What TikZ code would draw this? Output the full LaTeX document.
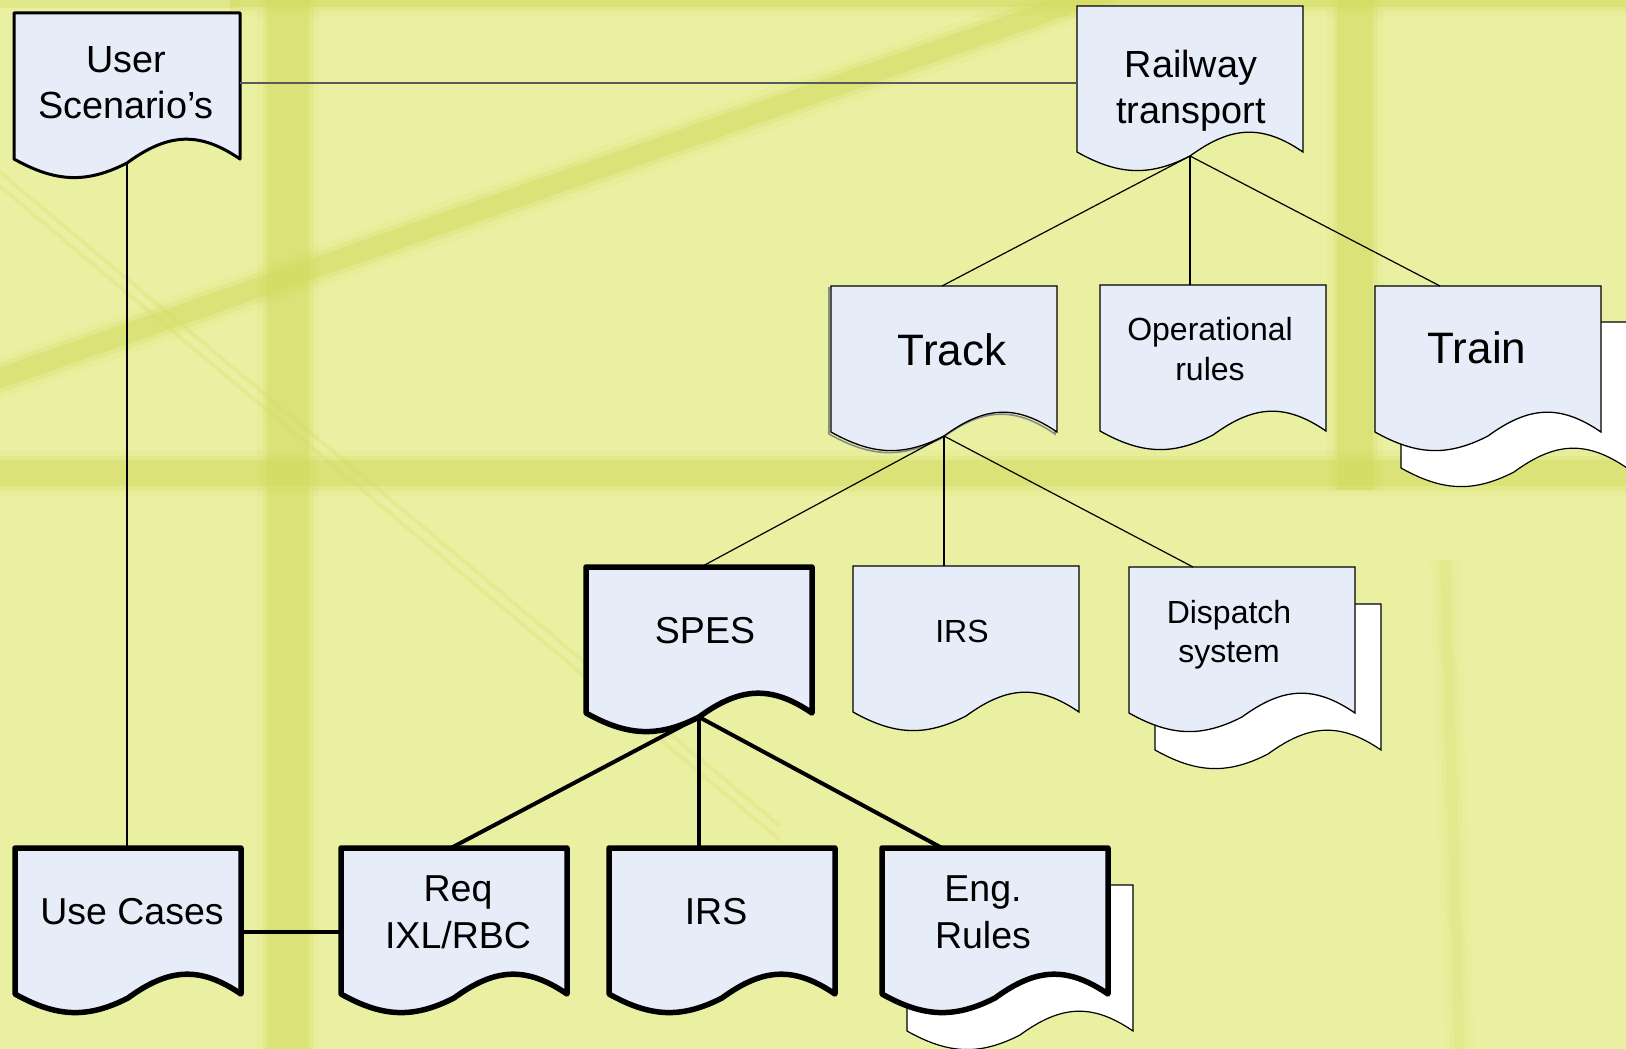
\documentclass[tikz,border=0pt]{standalone}
\usepackage{fontspec}
\setmainfont{Liberation Sans}
\usetikzlibrary{calc}
\definecolor{bg}{HTML}{EAF0A2}
\definecolor{bar}{HTML}{D3DB5E}
\definecolor{docfill}{HTML}{E6ECF8}

% document shape: name, x, y (top-left), style
\newcommand\docshape[4]{%
  \coordinate (#1) at (#2,#3);
  \coordinate (#1-b) at (#2+113,#3+150);
  \path[#4] (#2,#3) -- (#2+226,#3) -- (#2+226,#3+146)
    .. controls (#2+185,#3+118) and (#2+154,#3+120) .. (#2+113,#3+150)
    .. controls (#2+72,#3+171) and (#2+41,#3+169) .. (#2,#3+146) -- cycle;
}
% soft background band: width, colour, path
\newcommand\band[3]{%
  \draw[#2, line width=#1+20pt, opacity=0.12] #3;
  \draw[#2, line width=#1+9pt, opacity=0.22] #3;
  \draw[#2, line width=#1, opacity=0.45] #3;
}

\begin{document}
\begin{tikzpicture}[x=1pt,y=-1pt,
  thindoc/.style={draw=black, fill=docfill, line width=1.3pt},
  meddoc/.style={draw=black, fill=docfill, line width=3pt, line join=round},
  thickdoc/.style={draw=black, fill=docfill, line width=5.5pt, line join=round},
  backdoc/.style={draw=black, fill=white, line width=1.2pt},
  lbl/.style={align=center, inner sep=0pt, anchor=north},
  fA/.style={font=\fontsize{37.8}{46}\selectfont},
  fB/.style={font=\fontsize{44}{50}\selectfont},
  fC/.style={font=\fontsize{32}{39.5}\selectfont},
  fD/.style={font=\fontsize{37.5}{47}\selectfont},
  thin/.style={draw=black, line width=1.2pt},
  thick/.style={draw=black, line width=4pt},
  graylink/.style={draw=black!65, line width=1.6pt}]
\useasboundingbox (0,0) rectangle (1626,1049);
\clip (0,0) rectangle (1626,1049);
% ---------- background ----------
\fill[bg] (0,0) rectangle (1626,1049);
\band{8pt}{bar}{(230,3) -- (1650,3)}
\band{42pt}{bar}{(288,-20) -- (288,1070)}
\band{26pt}{bar}{(-20,473) -- (1650,473)}
\band{20pt}{bar}{(-20,385) -- (1110,-10)}
\band{36pt}{bar}{(1355,-20) -- (1355,490)}
\band{10pt}{bar!50!bg}{(1445,560) -- (1460,1060)}
\draw[bar, line width=4pt, opacity=0.25] (-10,164) -- (780,826);
\draw[bar, line width=4pt, opacity=0.25] (-10,178) -- (780,840);
\fill[bar, opacity=0.35] (0,0) rectangle (240,8);

% ---------- document shapes ----------
\docshape{us}{14}{13}{meddoc}
\docshape{rt}{1077}{6}{thindoc}
\docshape{trackshadow}{829}{288}{draw=black!45, line width=1.6pt}
\docshape{track}{831}{286}{thindoc}
\docshape{oprules}{1100}{285}{thindoc}
\docshape{trainback}{1401}{322}{backdoc}
\docshape{train}{1375}{286}{thindoc}
\docshape{spes}{586}{567}{thickdoc}
\docshape{irsa}{853}{566}{thindoc}
\docshape{dispback}{1155}{604}{backdoc}
\docshape{disp}{1129}{567}{thindoc}
\docshape{uc}{15}{848}{thickdoc}
\docshape{req}{341}{848}{thickdoc}
\docshape{irsb}{609}{848}{thickdoc}
\docshape{engback}{907}{885}{backdoc}
\docshape{eng}{882}{848}{thickdoc}

% ---------- attachment points ----------
\coordinate (us-r) at (240,83);
\coordinate (rt-l) at (1077,83);
\coordinate (uc-t) at (127,848);
\coordinate (uc-r) at (241,932);
\coordinate (req-l) at (341,932);
\coordinate (track-t) at (942,286);
\coordinate (oprules-t) at (1190,285);
\coordinate (train-t) at (1440,286);
\coordinate (spes-t) at (701,567);
\coordinate (irsa-t) at (944,566);
\coordinate (disp-t) at (1193,567);
\coordinate (req-t) at (451,848);
\coordinate (irsb-t) at (699,848);
\coordinate (eng-t) at (942,848);

% ---------- connectors ----------
\draw[graylink] (us-r) -- (rt-l);
\draw[thin] (us-b) -- (uc-t);
\draw[thin] (rt-b) -- (track-t);
\draw[thin] (rt-b) -- (oprules-t);
\draw[thin] (rt-b) -- (train-t);
\draw[thin] (track-b) -- (spes-t);
\draw[thin] (track-b) -- (irsa-t);
\draw[thin] (track-b) -- (disp-t);
\draw[thick] (spes-b) -- (req-t);
\draw[thick] (spes-b) -- (irsb-t);
\draw[thick] (spes-b) -- (eng-t);
\draw[thick] (uc-r) -- (req-l);

% ---------- labels ----------
\node[lbl, fA] (us-l) at (126,46) {User\\Scenario’s};
\node[lbl, fA] (rt-l2) at (1191,49.5) {Railway\\transport};
\node[lbl, fB] (track-l) at (952,333) {Track};
\node[lbl, fC] (oprules-l) at (1210,317.6) {Operational\\rules};
\node[lbl, fB] (train-l) at (1477,331) {Train};
\node[lbl, fD] (spes-l) at (705,617.5) {SPES};
\node[lbl, fC] (irsa-l) at (962,619.5) {IRS};
\node[lbl, fC] (disp-l) at (1229,599.7) {Dispatch\\system};
\node[lbl, fD] (uc-l) at (132,898) {Use Cases};
\node[lbl, fD] (req-l2) at (458,875.5) {Req\\IXL/RBC};
\node[lbl, fD] (irsb-l) at (716,898.5) {IRS};
\node[lbl, fD] (eng-l) at (983,875.5) {Eng.\\Rules};
\end{tikzpicture}
\end{document}
